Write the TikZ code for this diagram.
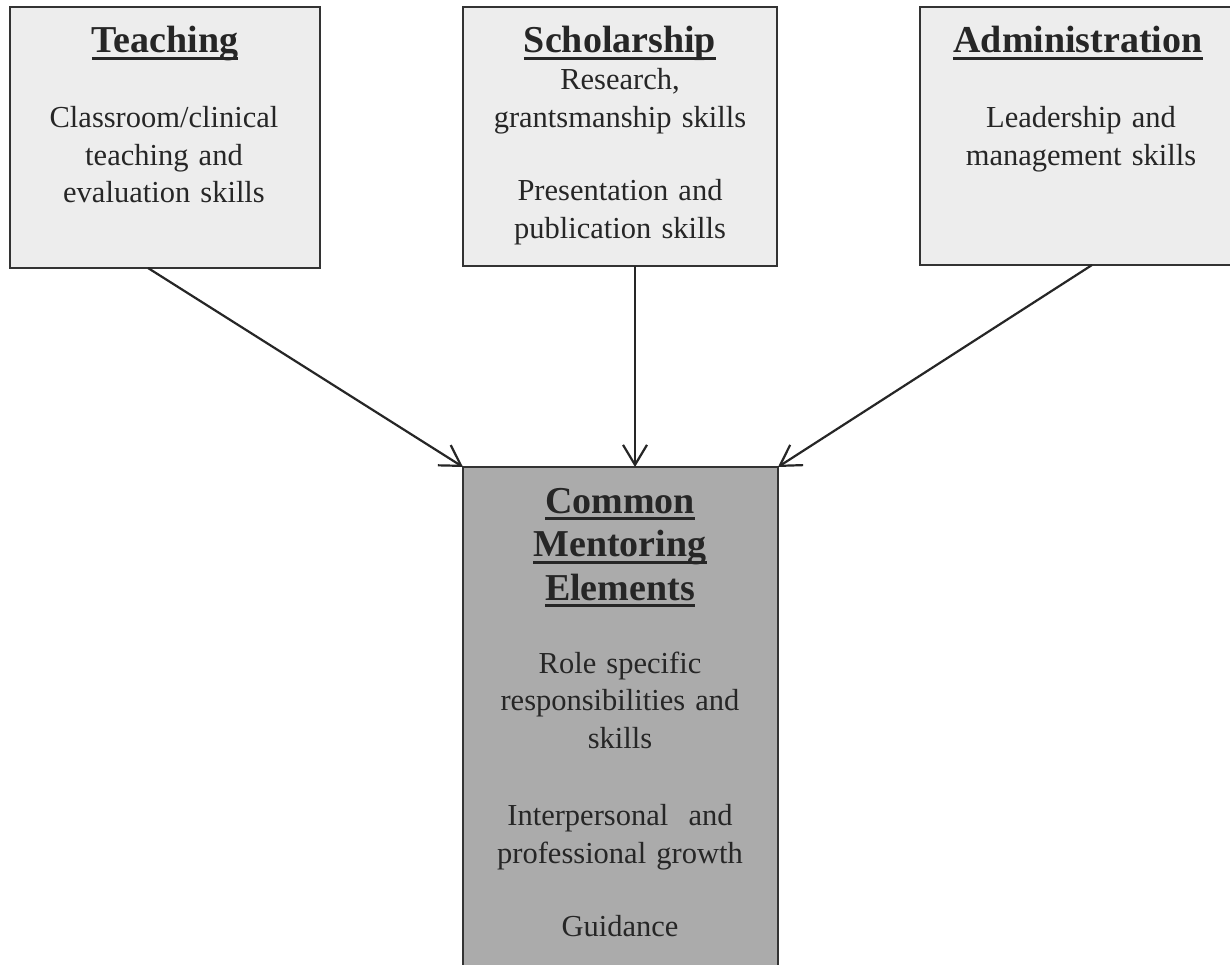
\documentclass[tikz,border=0pt]{standalone}
\usepackage{fontspec}
\setmainfont{Liberation Serif}
\usetikzlibrary{arrows.meta,calc}

% thick underline for headings
\newsavebox{\ulbox}
\newcommand{\thickul}[1]{\leavevmode\sbox{\ulbox}{#1}%
  \rlap{\rule[-7.2pt]{\wd\ulbox}{3.2pt}}\usebox{\ulbox}}

\definecolor{boxlight}{HTML}{EDEDED}
\definecolor{boxdark}{HTML}{ABABAB}
\definecolor{ink}{HTML}{262626}
\definecolor{rim}{HTML}{333333}

\tikzset{
  areabox/.style={draw=rim, line width=2pt, fill=boxlight, rectangle,
    inner sep=0pt, outer sep=0pt},
  corebox/.style={areabox, fill=boxdark},
  heading/.style={text=ink, anchor=base, inner sep=0pt, text width=300pt,
    align=center, font=\fontsize{38}{43.5}\selectfont\bfseries},
  bodytext/.style={text=ink, anchor=base, inner sep=0pt, text width=310pt,
    align=center, font=\fontsize{30.5}{37.5}\selectfont},
  feed/.style={draw=ink, line width=2.2pt,
    -{Straight Barb[length=20pt,width=24pt,line width=2.2pt]}}
}

\begin{document}
\begin{tikzpicture}[x=1pt,y=-1pt]
  \fill[white] (0,0) rectangle (1230,965);
  \useasboundingbox (0,0) rectangle (1230,965);

  % three areas of academic work
  \node[areabox, minimum width=310pt, minimum height=261pt] (teach) at (165,137.5) {};
  \node[areabox, minimum width=314pt, minimum height=259pt] (schol) at (620,136.5) {};
  \node[areabox, minimum width=322pt, minimum height=258pt] (admin) at (1081,136) {};

  % shared core
  \node[corebox, minimum width=315pt, minimum height=520pt] (core) at (620.5,727) {};

  % texts of the areas
  \node[heading] (teachhead) at (165,53) {\thickul{Teaching}};
  \node[bodytext] (teachbody) at (164,128)
    {Classroom/clinical\\teaching and\\evaluation skills};

  \node[heading] (scholhead) at (620,53) {\thickul{Scholarship}};
  \node[bodytext] (scholbody) at (620,90)
    {Research,\\grantsmanship skills\\[36pt]Presentation and\\publication skills};

  \node[heading] (adminhead) at (1078,53) {\thickul{Administration}};
  \node[bodytext] (adminbody) at (1081,128)
    {Leadership and\\management skills};

  % texts of the core
  \node[heading] (corehead) at (620,513)
    {\thickul{Common}\\\thickul{Mentoring}\\\thickul{Elements}};
  \node[bodytext] (corebody) at (620,673)
    {Role specific\\responsibilities and\\skills\\[40pt]Interpersonal\ \ and\\professional growth\\[36pt]Guidance};

  % connectors into the core
  \draw[feed] ($(teach.south)+(-17,0)$) -- (core.north west);
  \draw[feed] ($(schol.south)+(15,0)$) -- ($(core.north)+(14.5,0)$);
  \draw[feed] ($(admin.south)+(11,0)$) -- (core.north east);
\end{tikzpicture}
\end{document}
